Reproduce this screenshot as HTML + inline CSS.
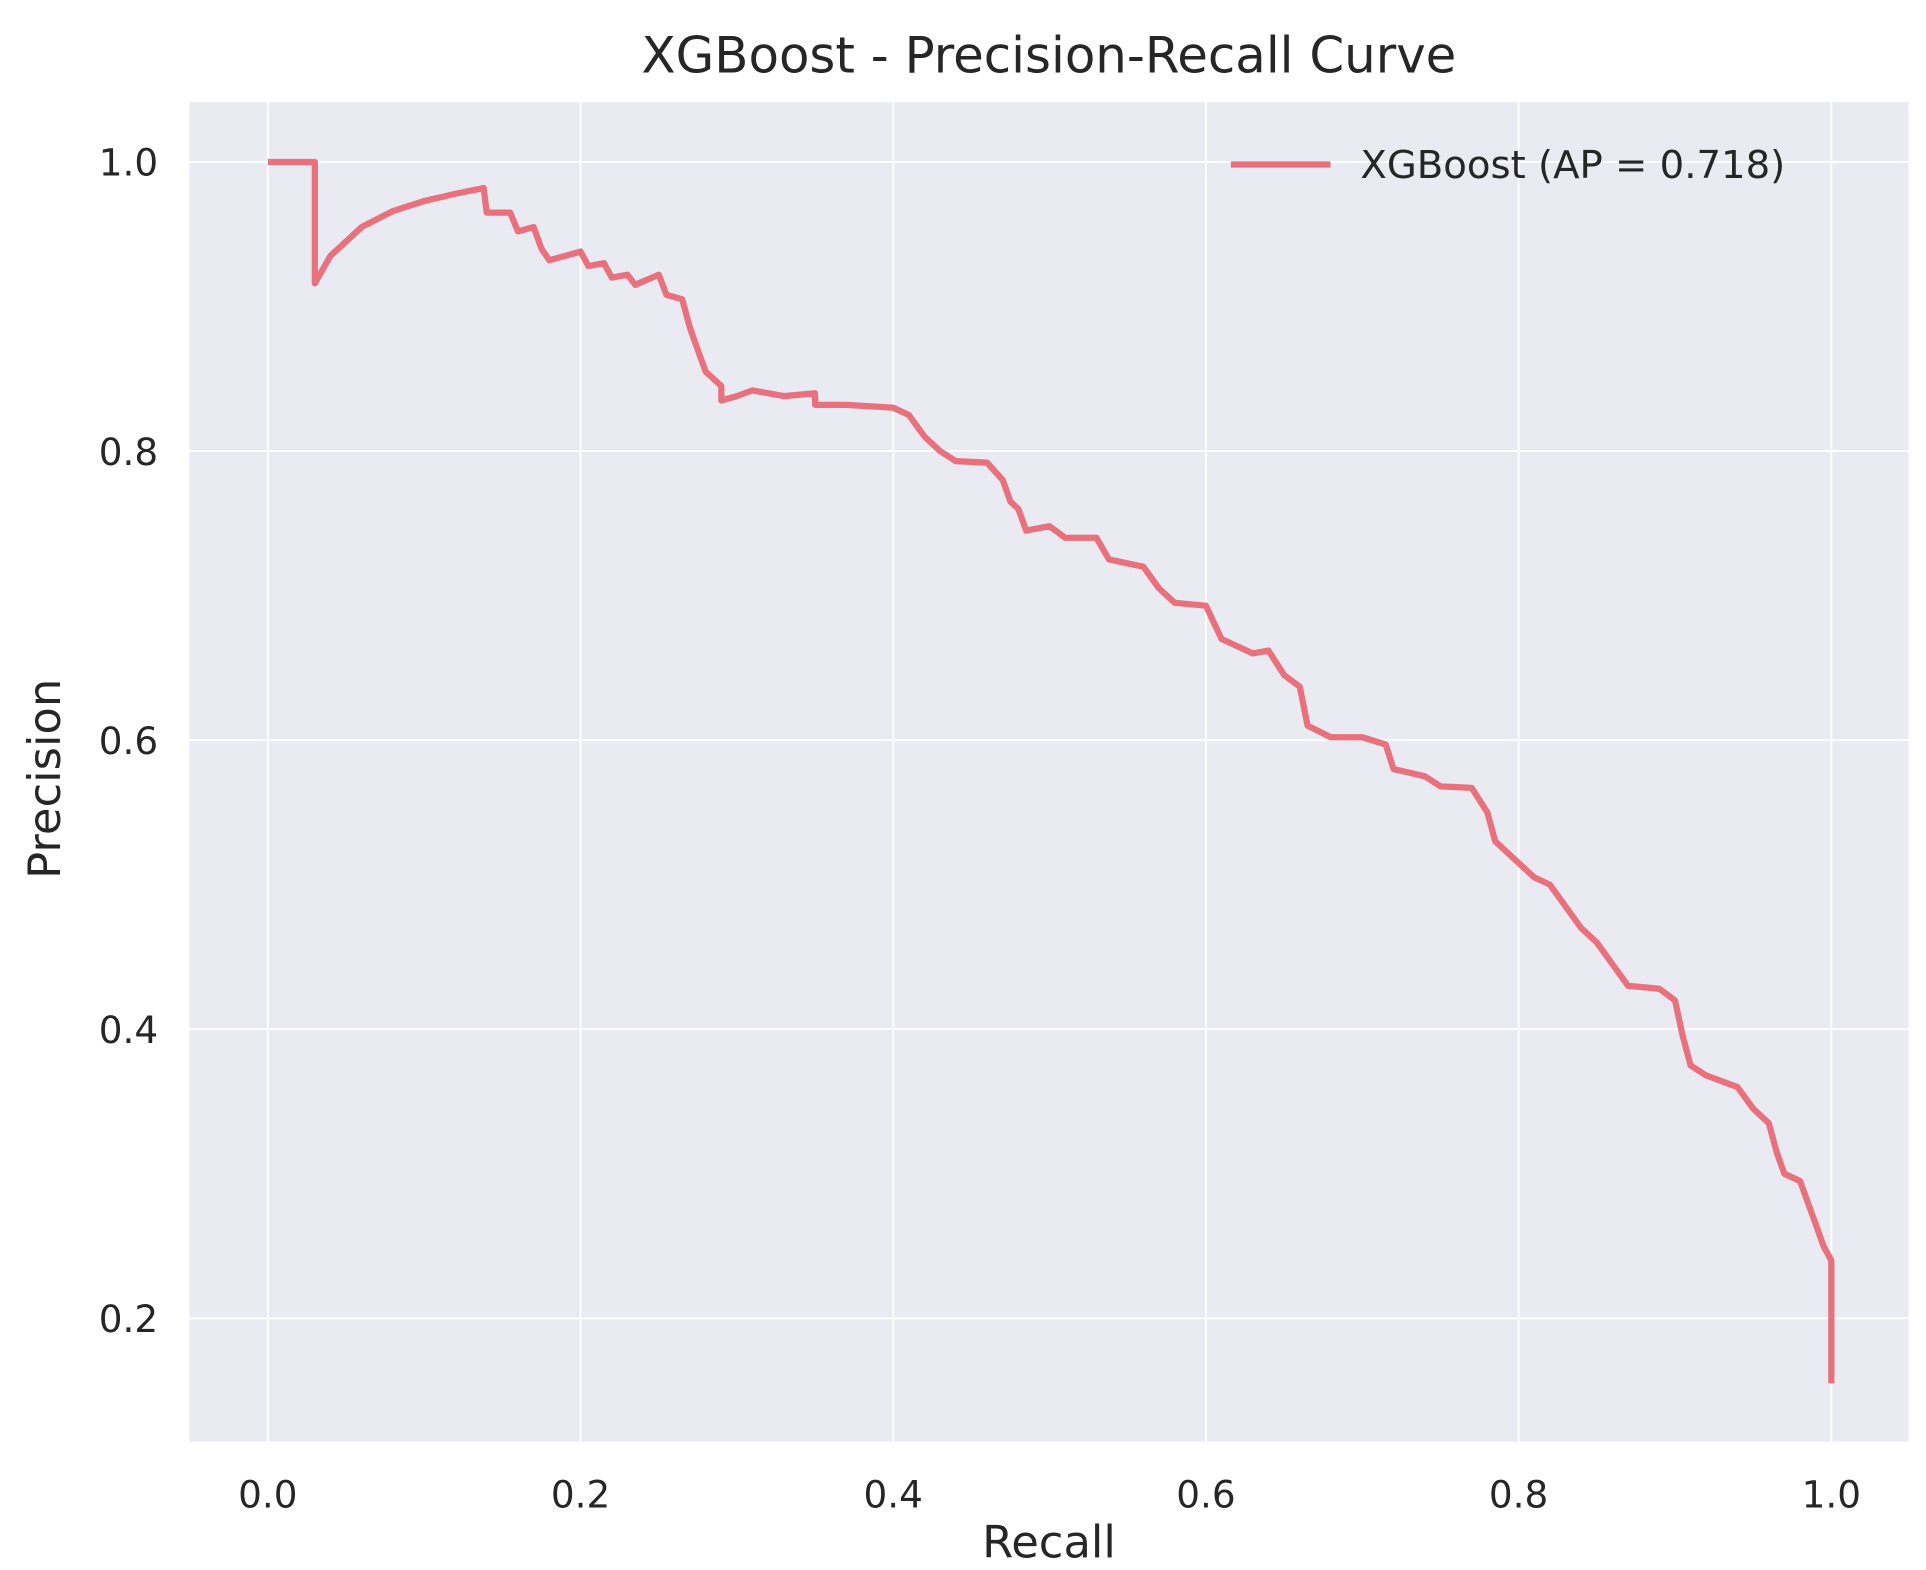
<!DOCTYPE html>
<html><head><meta charset="utf-8"><style>
html,body{margin:0;padding:0;background:#fff;}
svg{display:block;font-family:"DejaVu Sans","Liberation Sans",sans-serif;}
</style></head>
<body>
<svg id="chart" width="1926" height="1570" viewBox="0 0 1546 1260" preserveAspectRatio="none" xmlns="http://www.w3.org/2000/svg">
<text x="842" y="58" text-anchor="middle" font-size="40" fill="#262626">XGBoost - Precision-Recall Curve</text>
<rect x="152" y="82" width="1380" height="1075" fill="#eaeaf2"/>
<g id="grid"></g>
<g id="ticks"></g>
<path id="curve" fill="none" stroke="#e8717d" stroke-width="5" stroke-linejoin="round"/>
<text x="842" y="1250" text-anchor="middle" font-size="36" fill="#262626">Recall</text>
<text transform="translate(48,625) rotate(-90)" text-anchor="middle" font-size="36" fill="#262626">Precision</text>
<g>
<line x1="988" y1="132" x2="1068" y2="132" stroke="#e8717d" stroke-width="5"/>
<text x="1092" y="143" font-size="31" fill="#262626">XGBoost (AP = 0.718)</text>
</g>
</svg>
<script>
const recall=[0,0.03,0.03,0.04,0.06,0.08,0.1,0.12,0.138,0.14,0.155,0.16,0.17,0.175,0.18,0.2,0.205,0.215,0.22,0.23,0.235,0.25,0.255,0.265,0.27,0.275,0.28,0.29,0.29,0.3,0.31,0.33,0.35,0.35,0.37,0.4,0.41,0.42,0.43,0.44,0.46,0.47,0.475,0.48,0.485,0.5,0.51,0.53,0.538,0.56,0.57,0.58,0.6,0.61,0.63,0.64,0.65,0.66,0.665,0.68,0.7,0.715,0.72,0.74,0.75,0.77,0.78,0.785,0.8,0.81,0.82,0.83,0.84,0.85,0.86,0.87,0.89,0.9,0.905,0.91,0.92,0.94,0.95,0.96,0.965,0.97,0.98,0.985,0.99,0.995,1.0,1.0];
const precision=[1,1,0.916,0.935,0.955,0.966,0.973,0.978,0.982,0.965,0.965,0.952,0.955,0.94,0.932,0.938,0.928,0.93,0.92,0.922,0.915,0.922,0.908,0.905,0.885,0.87,0.855,0.845,0.835,0.838,0.842,0.838,0.84,0.832,0.832,0.83,0.825,0.81,0.8,0.793,0.792,0.78,0.765,0.76,0.745,0.748,0.74,0.74,0.725,0.72,0.705,0.695,0.693,0.67,0.66,0.662,0.645,0.637,0.61,0.602,0.602,0.597,0.58,0.575,0.568,0.567,0.55,0.53,0.515,0.505,0.5,0.485,0.47,0.46,0.445,0.43,0.428,0.42,0.395,0.375,0.368,0.36,0.345,0.335,0.315,0.3,0.295,0.28,0.265,0.25,0.24,0.155];
const xTicks=[0,0.2,0.4,0.6,0.8,1.0];
const yTicks=[0.2,0.4,0.6,0.8,1.0];
function xs(v){return 215+v*1255;}
function ys(v){return 130+(1-v)*1160;}
const NS="http://www.w3.org/2000/svg";
const grid=document.getElementById('grid'),ticks=document.getElementById('ticks');
xTicks.forEach(t=>{
 const l=document.createElementNS(NS,'line');
 
 
 l.setAttribute('x1',xs(t));l.setAttribute('x2',xs(t));l.setAttribute('y1',82);l.setAttribute('y2',1157);
 l.setAttribute('stroke','#fff');l.setAttribute('stroke-width','1.5');grid.appendChild(l);
 const tx=document.createElementNS(NS,'text');
 
 
 tx.setAttribute('x',xs(t));tx.setAttribute('y',1210);tx.setAttribute('text-anchor','middle');
 tx.setAttribute('font-size','30');tx.setAttribute('fill','#262626');tx.textContent=t.toFixed(1);ticks.appendChild(tx);
});
yTicks.forEach(t=>{
 const l=document.createElementNS(NS,'line');
 
 
 l.setAttribute('x1',152);l.setAttribute('x2',1532);l.setAttribute('y1',ys(t));l.setAttribute('y2',ys(t));
 l.setAttribute('stroke','#fff');l.setAttribute('stroke-width','1.5');grid.appendChild(l);
 const tx=document.createElementNS(NS,'text');
 
 
 tx.setAttribute('x',127);tx.setAttribute('y',ys(t)+11);tx.setAttribute('text-anchor','end');
 tx.setAttribute('font-size','30');tx.setAttribute('fill','#262626');tx.textContent=t.toFixed(1);ticks.appendChild(tx);
});
let d='';
recall.forEach((r,i)=>{d+=(i?'L':'M')+xs(r).toFixed(1)+','+ys(precision[i]).toFixed(1);});
document.getElementById('curve').setAttribute('d',d);
</script>
</body></html>
